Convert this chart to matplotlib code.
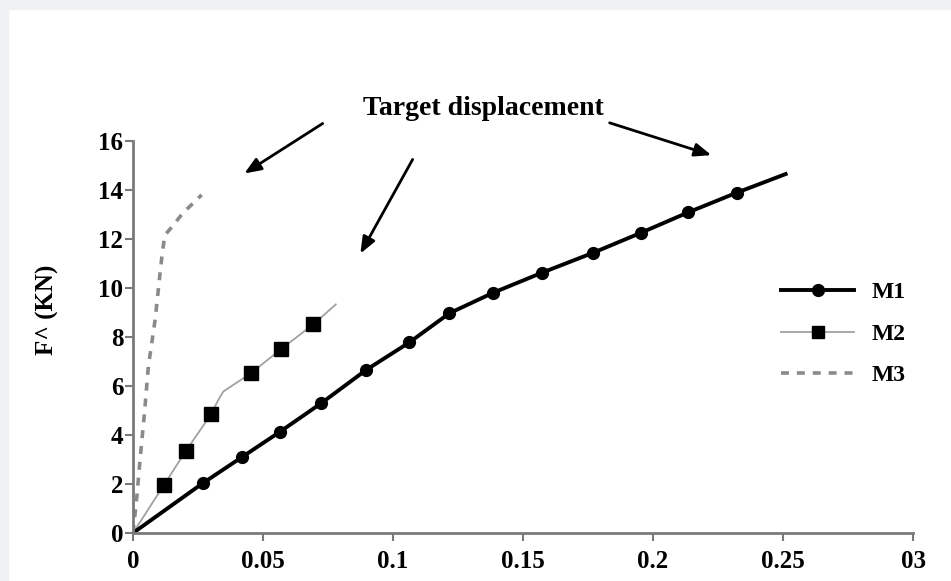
import numpy as np
import matplotlib.pyplot as plt
from matplotlib.lines import Line2D
from matplotlib.patches import Rectangle

# displacement (m) / force (kN)
m1_x = [0, 0.0268, 0.0418, 0.0565, 0.0723, 0.0896, 0.1063, 0.1217, 0.1386,
        0.1572, 0.1768, 0.1953, 0.2136, 0.2322, 0.251]
m1_y = [0, 2.03, 3.09, 4.13, 5.29, 6.65, 7.78, 8.97, 9.81,
        10.62, 11.43, 12.25, 13.09, 13.89, 14.65]

m2_x = [0, 0.0119, 0.0204, 0.030, 0.0328, 0.0347, 0.0453, 0.0569, 0.0694, 0.078]
m2_y = [0, 1.96, 3.36, 4.84, 5.43, 5.77, 6.52, 7.5, 8.52, 9.33]
m2_marks = [1, 2, 3, 6, 7, 8]

m3_x = [0, 0.0015, 0.0027, 0.0045, 0.0059, 0.0085, 0.0104, 0.0114, 0.0123,
        0.0150, 0.0192, 0.0264]
m3_y = [0, 1.5, 2.98, 5.0, 6.79, 8.7, 10.6, 11.55, 12.16, 12.5, 13.06, 13.8]

xticks = [0, 0.05, 0.1, 0.15, 0.2, 0.25, 0.3]
xlabels = ["0", "0.05", "0.1", "0.15", "0.2", "0.25", "03"]
yticks = [0, 2, 4, 6, 8, 10, 12, 14, 16]

serif = ["Liberation Serif", "DejaVu Serif"]
plt.rcParams['font.family'] = serif
plt.rcParams['font.weight'] = 'bold'

fig = plt.figure(figsize=(9.51, 5.81), dpi=100)
fig.patch.set_facecolor("white")
# light grey frame at top and left
fig.patches.append(Rectangle((0, 1 - 9 / 581), 1, 9 / 581, transform=fig.transFigure,
                             color="#eff1f4", zorder=0))
fig.patches.append(Rectangle((0, 0), 8 / 951, 1, transform=fig.transFigure,
                             color="#eff1f4", zorder=0))

ax = fig.add_axes([133 / 951, 48 / 581, 780 / 951, 392 / 581])

ax.plot(m3_x, m3_y, color="#8a8a8a", lw=2.6, dashes=(2.2, 2.2))
ax.plot(m2_x, m2_y, color="#a0a0a0", lw=1.3, marker="s", ms=10,
        mfc="black", mec="black", markevery=m2_marks)
ax.plot(m1_x, m1_y, color="black", lw=2.8, marker="o", ms=8.5,
        mfc="black", mec="black", markevery=list(range(1, 14)))

ax.set_xlim(0, 0.3)
ax.set_ylim(0, 16)
ax.set_xticks(xticks)
ax.set_xticklabels(xlabels)
ax.set_yticks(yticks)
for s in ["top", "right"]:
    ax.spines[s].set_visible(False)
for s in ["left", "bottom"]:
    ax.spines[s].set_color("#7a7a7a")
    ax.spines[s].set_linewidth(2)
ax.tick_params(axis="x", direction="out", length=6, width=1.5, color="#7a7a7a",
               pad=6, labelsize=18)
ax.tick_params(axis="y", direction="out", length=6, width=1.5, color="#7a7a7a",
               pad=1, labelsize=18)
for lab in ax.get_xticklabels() + ax.get_yticklabels():
    lab.set_fontweight("bold")

fig.text(47 / 951, 1 - 310 / 581, "F^ (KN)", rotation=90, ha="center", va="center",
         fontsize=18, fontweight="bold")

fig.text(483 / 951, 1 - 108 / 581, "Target displacement", ha="center", va="center",
         fontsize=20, fontweight="bold")

arrows = [((325, 122), (242, 175)), ((414, 157), (359, 256)), ((607, 122), (714, 156))]
for (tx, ty), (hx, hy) in arrows:
    ax.annotate("", xy=(hx / 951, 1 - hy / 581), xycoords="figure fraction",
                xytext=(tx / 951, 1 - ty / 581), textcoords="figure fraction",
                arrowprops=dict(arrowstyle="-|>,head_length=1.0,head_width=0.4",
                                color="black", lw=2))

handles = [
    Line2D([], [], color="black", lw=2.8, marker="o", ms=8.5, mfc="black"),
    Line2D([], [], color="#a0a0a0", lw=1.3, marker="s", ms=8, mfc="black", mec="black"),
    Line2D([], [], color="#8a8a8a", lw=2.6, dashes=(2.2, 2.2)),
]
leg = fig.legend(handles, ["M1", "M2", "M3"], loc="center left",
                 bbox_to_anchor=(781 / 951, 1 - 334 / 581), frameon=False,
                 handlelength=3.1, labelspacing=0.85, handletextpad=0.75, borderpad=0,
                 borderaxespad=0, prop={"family": serif, "weight": "bold", "size": 17})

fig.savefig("out.png", dpi=100)
